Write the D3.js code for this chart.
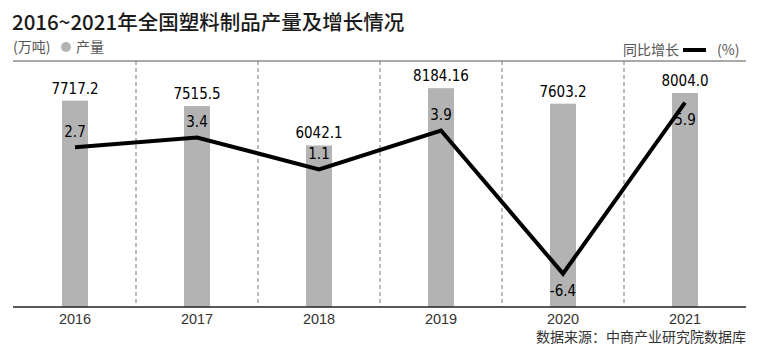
<!DOCTYPE html>
<html><head><meta charset="utf-8">
<script src="https://cdn.jsdelivr.net/npm/d3@7"></script>
<style>body{margin:0;background:#fff}</style>
</head><body><svg id="c" width="758" height="358"></svg>
<script>
const years = ["2016","2017","2018","2019","2020","2021"];
const output = [7717.2, 7515.5, 6042.1, 8184.16, 7603.2, 8004.0];
const outputLabels = ["7717.2","7515.5","6042.1","8184.16","7603.2","8004.0"];
const growth = [2.7, 3.4, 1.1, 3.9, -6.4, 5.9];
const growthLabels = ["2.7","3.4","1.1","3.9","-6.4","5.9"];

const svg = d3.select("#c");
const L = 14, R = 746, T = 61, B = 307;
const numFont = "'DejaVu Sans Condensed','DejaVu Sans',sans-serif";
const cjk = "'Noto Sans CJK SC','Liberation Sans',sans-serif";

const x = d3.scaleBand().domain(years).range([L, R]);
const y = d3.scaleLinear().domain([0, 9200]).range([B, T]);
const y2 = d3.scaleLinear().domain([-8.8, 8.9]).range([B, T]);

// title
svg.append("text").attr("x", 12).attr("y", 30).attr("font-family", cjk)
  .attr("font-size", 20.5).attr("font-weight", 500).attr("fill", "#1a1a1a")
  .text("2016~2021年全国塑料制品产量及增长情况");
// left legend
svg.append("text").attr("x", 13).attr("y", 52).attr("font-family", cjk)
  .attr("font-size", 14).attr("fill", "#555").text("(万吨)");
svg.append("circle").attr("cx", 66).attr("cy", 47).attr("r", 5).attr("fill", "#b3b3b3");
svg.append("text").attr("x", 76).attr("y", 52).attr("font-family", cjk)
  .attr("font-size", 14).attr("fill", "#555").text("产量");
// right legend
svg.append("text").attr("x", 623).attr("y", 55).attr("font-family", cjk)
  .attr("font-size", 14).attr("fill", "#555").text("同比增长");
svg.append("line").attr("x1", 683).attr("x2", 706).attr("y1", 50).attr("y2", 50)
  .attr("stroke", "#000").attr("stroke-width", 4);
svg.append("text").attr("x", 717).attr("y", 55).attr("font-family", cjk)
  .attr("font-size", 14).attr("fill", "#555").text("(%)");

// top rule
svg.append("line").attr("x1", 13).attr("x2", R).attr("y1", T).attr("y2", T)
  .attr("stroke", "#555").attr("stroke-width", 1);

// separators
svg.selectAll(".sep").data(years.slice(1)).enter().append("line")
  .attr("x1", d => x(d)).attr("x2", d => x(d)).attr("y1", T).attr("y2", B)
  .attr("stroke", "#777").attr("stroke-width", 1).attr("stroke-dasharray", "4,3");

// bars
const bw = 26;
svg.selectAll(".bar").data(years).enter().append("rect")
  .attr("x", d => x(d) + x.bandwidth()/2 - bw/2)
  .attr("width", bw)
  .attr("y", (d,i) => y(output[i]))
  .attr("height", (d,i) => B - y(output[i]))
  .attr("fill", "#b3b3b3");

// bar labels
svg.selectAll(".bl").data(years).enter().append("text")
  .attr("x", d => x(d) + x.bandwidth()/2)
  .attr("y", (d,i) => y(output[i]) - 7)
  .attr("text-anchor", "middle").attr("font-family", numFont)
  .attr("font-size", 15).attr("fill", "#000").text((d,i) => outputLabels[i]);

// axis
const ax = svg.append("g").attr("transform", `translate(0,${B})`)
  .call(d3.axisBottom(x).tickSize(0).tickPadding(7));
ax.select(".domain").attr("stroke", "#222").attr("stroke-width", 1.5)
  .attr("d", `M13,0H${R}`);
ax.selectAll("text").attr("font-family", "'Liberation Sans',Arial,sans-serif")
  .attr("font-size", 14.5).attr("fill", "#333").attr("dy", "0.71em");

// line
const line = d3.line().x((d,i) => x(years[i]) + x.bandwidth()/2).y(d => y2(d));
svg.append("path").datum(growth).attr("d", line).attr("fill", "none")
  .attr("stroke", "#000").attr("stroke-width", 4).attr("stroke-linejoin", "miter");

// line labels
svg.selectAll(".gl").data(growth).enter().append("text")
  .attr("x", (d,i) => x(years[i]) + x.bandwidth()/2)
  .attr("y", (d,i) => (d < 0 || i === growth.length - 1) ? y2(d) + 22 : y2(d) - 10)
  .attr("text-anchor", "middle").attr("font-family", numFont)
  .attr("font-size", 15).attr("fill", "#000").text((d,i) => growthLabels[i]);

// source
svg.append("text").attr("x", R).attr("y", 342).attr("text-anchor", "end")
  .attr("font-family", cjk).attr("font-size", 14).attr("fill", "#333")
  .text("数据来源：中商产业研究院数据库");
</script></body></html>
